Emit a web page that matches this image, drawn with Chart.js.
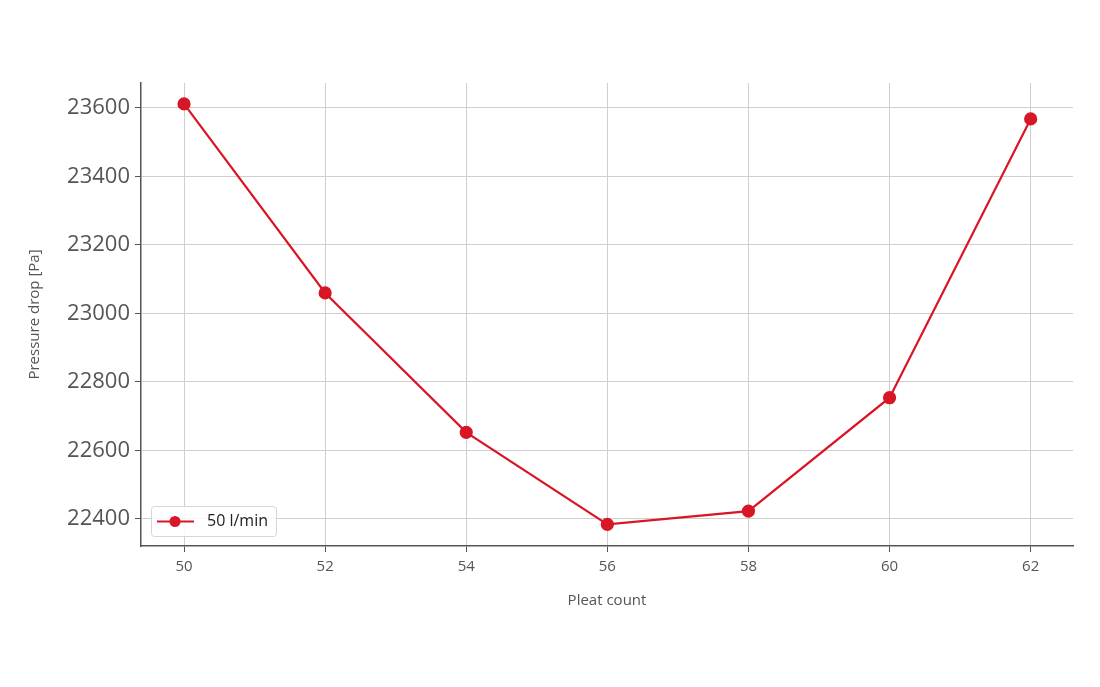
<!DOCTYPE html>
<html>
<head>
<meta charset="utf-8">
<script src="https://cdn.jsdelivr.net/npm/chart.js@4"></script>
<style>
  html, body { margin: 0; padding: 0; background: #fff; }
  #wrap { width: 1100px; height: 687px; }
</style>
</head>
<body>
<div id="wrap"><canvas id="chart"></canvas></div>
<script>
// data
const pleatCounts = [50, 52, 54, 56, 58, 60, 62];
const pressureDrop = [23612, 23060, 22653, 22384, 22423, 22754, 23568];
const seriesLabel = "50 l/min";
const xTicks = [50, 52, 54, 56, 58, 60, 62];
const yTicks = [22400, 22600, 22800, 23000, 23200, 23400, 23600];

const red = "rgb(215, 22, 38)";
const fontFam = "'Open Sans', 'Noto Sans', sans-serif";

// legend box drawn inside the plot, bottom left
const innerLegend = {
  id: "innerLegend",
  afterDraw(chart) {
    const ctx = chart.ctx;
    const area = chart.chartArea;
    const x = area.left + 10, h = 30, w = 125;
    const y = area.bottom - 10 - h;
    ctx.save();
    ctx.fillStyle = "rgba(255,255,255,0.85)";
    ctx.strokeStyle = "#d6d6d6";
    ctx.lineWidth = 1;
    ctx.beginPath();
    ctx.roundRect(x + 0.5, y + 0.5, w, h, 3);
    ctx.fill();
    ctx.stroke();
    const cy = y + h / 2 + 0.5;
    ctx.strokeStyle = red;
    ctx.lineWidth = 2.2;
    ctx.beginPath();
    ctx.moveTo(x + 6, cy);
    ctx.lineTo(x + 43, cy);
    ctx.stroke();
    ctx.fillStyle = red;
    ctx.beginPath();
    ctx.arc(x + 24, cy, 5.5, 0, Math.PI * 2);
    ctx.fill();
    ctx.fillStyle = "#222";
    ctx.font = "16px " + fontFam;
    ctx.textBaseline = "middle";
    ctx.fillText(chart.data.datasets[0].label, x + 56, cy);
    ctx.restore();
  }
};

const ctx = document.getElementById("chart").getContext("2d");
new Chart(ctx, {
  type: "line",
  data: {
    datasets: [{
      label: seriesLabel,
      data: pleatCounts.map((p, i) => ({ x: p, y: pressureDrop[i] })),
      borderColor: red,
      backgroundColor: red,
      borderWidth: 2.2,
      pointRadius: 5.5,
      pointHoverRadius: 5.5,
      tension: 0
    }]
  },
  options: {
    responsive: true,
    maintainAspectRatio: false,
    animation: false,
    layout: { padding: { top: 83, right: 27, bottom: 73, left: 22 } },
    plugins: {
      legend: { display: false },
      tooltip: { enabled: false }
    },
    scales: {
      x: {
        type: "linear",
        min: 49.39,
        max: 62.6,
        afterBuildTicks: (s) => { s.ticks = xTicks.map(v => ({ value: v })); },
        afterFit: (s) => { s.height = 68; },
        ticks: { color: "#555", font: { family: fontFam, size: 15 }, padding: 6, callback: (v) => String(v) },
        grid: { color: "#cfcfcf", lineWidth: 1, tickLength: 6, tickColor: "#555" },
        border: { color: "#555", width: 1.5 },
        title: { display: true, text: "Pleat count", color: "#555", font: { family: fontFam, size: 15 }, padding: { top: 8 } }
      },
      y: {
        min: 22321,
        max: 23673,
        afterBuildTicks: (s) => { s.ticks = yTicks.map(v => ({ value: v })); },
        afterFit: (s) => { s.width = 119; },
        ticks: { color: "#555", font: { family: fontFam, size: 22 }, padding: 5, callback: (v) => String(v) },
        grid: { color: "#cfcfcf", lineWidth: 1, tickLength: 6, tickColor: "#555" },
        border: { color: "#555", width: 1.5 },
        title: { display: true, text: "Pressure drop [Pa]", color: "#555", font: { family: fontFam, size: 15 }, padding: { bottom: 4 } }
      }
    }
  },
  plugins: [innerLegend]
});
</script>
</body>
</html>
